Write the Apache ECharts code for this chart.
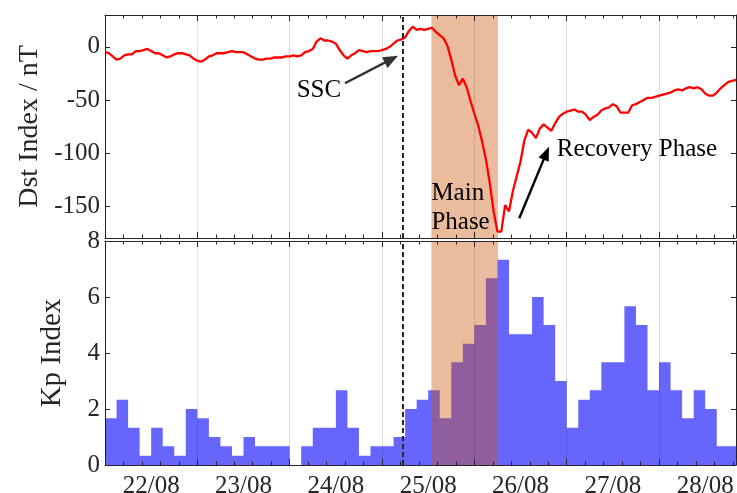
<!DOCTYPE html>
<html><head><meta charset="utf-8">
<script src="https://cdn.jsdelivr.net/npm/echarts@6/dist/echarts.min.js"></script>
<style>html,body{margin:0;padding:0;background:#fff}#c{width:737px;height:493px}</style>
</head><body><div id="c"></div>
<script>
// ---- data (x in hours since 22/08 00:00 UT) ----
const dayLabels = ['22/08','23/08','24/08','25/08','26/08','27/08','28/08'];
// hourly Dst index (nT)
const dstValues = [
  -5,-6,-9,-12,-11,-8,-7,-7,-4,-4,
  -3,-2,-4,-6,-6,-8,-10,-9,-7,-6,
  -6,-7,-8,-11,-13,-14,-12,-9,-8,-6,
  -6,-6,-5,-4,-5,-5,-5,-7,-9,-11,
  -12,-12,-11,-11,-10,-10,-10,-9,-9,-8,
  -9,-8,-5,-4,-2,5,8,6,6,5,
  3,-3,-8,-11,-8,-6,-3,-4,-5,-4,
  -4,-4,-3,-2,0,3,6,7,9,15,
  19,16,17,16,17,18,14,11,8,1,
  -12,-27,-36,-30,-38,-51,-63,-74,-89,-106,
  -128,-155,-174,-174,-149,-155,-136,-122,-108,-88,
  -78,-81,-86,-77,-73,-76,-79,-72,-66,-63,
  -61,-60,-59,-61,-61,-64,-69,-66,-64,-60,
  -58,-57,-54,-56,-62,-62,-62,-55,-54,-52,
  -50,-48,-48,-47,-46,-45,-44,-43,-41,-40,
  -41,-39,-38,-39,-38,-40,-44,-46,-46,-43,
  -39,-36,-33,-32,-31
];
// 3-hourly Kp index
const kpValues = [
  1.67,2.33,1.33,0.33,1.33,0.67,0.33,2.0,
  1.67,1.0,0.67,0.33,1.0,0.67,0.67,0.67,
  0,0.67,1.33,1.33,2.67,1.33,0.33,0.67,
  0.67,1.0,2.0,2.33,2.67,1.67,3.67,4.33,
  5.0,6.67,7.33,4.67,4.67,6.0,5.0,3.0,
  1.33,2.33,2.67,3.67,3.67,5.67,5.0,2.67,
  3.67,2.67,1.67,2.67,2.0,0.67,0.67
];
const dstTicks = [-150,-100,-50,0];
const kpTicks = [0,2,4,6,8];
const sscHour = 77.5;             // 25/08 05:30
const mainPhase = [84.83, 102.17]; // 25/08 12:50 - 26/08 06:10
const xMax = 164;                  // 28/08 20:00

const FONT = "'Liberation Serif','Times New Roman',serif";
const AX = '#262626';
const dstData = dstValues.map((v,i)=>[i, v]);
const kpData = kpValues.map((v,i)=>[i*3, v]);
kpData.push([kpValues.length*3, kpValues[kpValues.length-1]]);
const labelPos = dayLabels.map((d,i)=>12+24*i);

function xAx(grid, pos, z, split){
  return {type:'value', gridIndex:grid, position:pos, min:0, max:xMax, interval:24, z:z,
    axisLine:{show:true, onZero:false, lineStyle:{color:AX, width:1}},
    axisTick:{show:true, inside:true, length:6, lineStyle:{color:AX}},
    minorTick:{show:true, splitNumber:5, length:3.5, lineStyle:{color:AX}},
    splitLine:{show:split, lineStyle:{color:'rgba(0,0,0,0.13)', width:1}},
    axisLabel:{show:false}};
}
function yAx(grid, pos, min, max, ticks, labels, extra){
  const o = {type:'value', gridIndex:grid, position:pos, min:min, max:max,
    axisLine:{show:true, onZero:false, lineStyle:{color:AX, width:1}},
    axisTick:{show:true, inside:true, length:5, customValues:ticks, lineStyle:{color:AX}},
    splitLine:{show:false},
    axisLabel:{show:labels, customValues:ticks, margin:5, fontSize:25, fontFamily:FONT, color:AX}};
  return Object.assign(o, extra||{});
}
function shade(xi, yi, z){
  return {type:'custom', xAxisIndex:xi, yAxisIndex:yi, z:z, silent:true, clip:true,
    data:[mainPhase],
    renderItem:function(params, api){
      const cs = params.coordSys;
      const p0 = api.coord([api.value(0), 0]);
      const p1 = api.coord([api.value(1), 0]);
      return {type:'rect', shape:{x:p0[0], y:cs.y, width:p1[0]-p0[0], height:cs.height},
        style:{fill:'rgba(205,85,10,0.4)'}};
    }};
}
const dashStyle = {color:'#262626', width:2, type:[5,3]};

const chart = echarts.init(document.getElementById('c'), null, {renderer:'canvas'});
chart.setOption({
  animation:false,
  grid:[
    {left:105, top:15, width:631, height:223, containLabel:false, outerBoundsMode:'none'},
    {left:105, top:241, width:631, height:224, containLabel:false, outerBoundsMode:'none'}
  ],
  xAxis:[
    xAx(0,'bottom',1.5,true),
    xAx(0,'top',1.5,false),
    xAx(1,'bottom',4,true),
    xAx(1,'top',4,false),
    {type:'value', gridIndex:1, position:'bottom', min:0, max:xMax, interval:12,
      axisLine:{show:false}, axisTick:{show:false}, splitLine:{show:false},
      axisLabel:{show:true, customValues:labelPos, margin:9, fontSize:25, fontFamily:FONT, color:AX,
        formatter:function(v){ return dayLabels[Math.round((v-12)/24)]; }}}
  ],
  yAxis:[
    yAx(0,'left',-180,30,dstTicks,true,{name:'Dst Index / nT', nameLocation:'middle', nameGap:61,
      nameTextStyle:{fontSize:28, fontFamily:FONT, color:AX}}),
    yAx(0,'right',-180,30,dstTicks,false),
    yAx(1,'left',0,8,kpTicks,true,{interval:2, name:'Kp Index', nameLocation:'middle', nameGap:38,
      nameTextStyle:{fontSize:29, fontFamily:FONT, color:AX}}),
    yAx(1,'right',0,8,kpTicks,false,{interval:2})
  ],
  series:[
    shade(0,0,1),
    {type:'line', name:'Dst', xAxisIndex:0, yAxisIndex:0, data:dstData, z:2,
      showSymbol:false, symbol:'none', lineStyle:{color:'#ff0000', width:2.3}, itemStyle:{color:'#ff0000'},
      markLine:{silent:true, symbol:['none','none'], label:{show:false}, z:5,
        data:[
          {xAxis:sscHour, lineStyle:dashStyle},
          [{coord:[62.37,-34.3], symbol:'none', lineStyle:{color:'#333333', width:2.4, type:'solid'}},
           {coord:[74.45,-11.6], symbol:'triangle', symbolSize:[12,15], itemStyle:{color:'#333333'}}],
          [{coord:[107.67,-161.4], symbol:'none', lineStyle:{color:'#000000', width:2.4, type:'solid'}},
           {coord:[114.7,-100.1], symbol:'triangle', symbolSize:[11,14], itemStyle:{color:'#000000'}}]
        ]}},
    {type:'line', name:'Kp', xAxisIndex:2, yAxisIndex:2, data:kpData, step:'end', z:2,
      showSymbol:false, symbol:'none', lineStyle:{width:0, opacity:0},
      areaStyle:{color:'rgba(0,0,255,0.6)', opacity:1},
      markLine:{silent:true, symbol:['none','none'], label:{show:false}, z:5,
        data:[{xAxis:sscHour, lineStyle:dashStyle}]}},
    shade(2,2,3)
  ]
});

const annotations = [
  {text:'SSC', at:[55.6,-41.1], align:'center'},
  {text:'Recovery Phase', at:[117.4,-96.4], align:'left'},
  {text:'Main', at:[mainPhase[0],-138.4], align:'left'},
  {text:'Phase', at:[mainPhase[0],-165.4], align:'left'}
];
chart.setOption({graphic: annotations.map(a=>{
  const p = chart.convertToPixel({xAxisIndex:0, yAxisIndex:0}, a.at);
  return {type:'text', x:p[0], y:p[1], z:10, silent:true,
    style:{text:a.text, font:"25px 'Liberation Serif','Times New Roman',serif", fill:'#000',
      textAlign:a.align, textVerticalAlign:'middle'}};
})});
</script></body></html>
